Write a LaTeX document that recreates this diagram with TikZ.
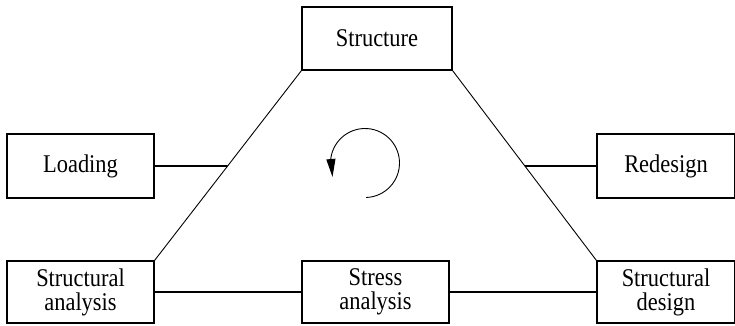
\documentclass[tikz,border=0pt]{standalone}
\usepackage{fontspec}
\setmainfont[FakeStretch=0.88]{Liberation Serif}
\usetikzlibrary{arrows.meta,calc}
\begin{document}
\begin{tikzpicture}[x=1pt,y=-1pt,
  box/.style={draw,line width=1.1pt,inner sep=0pt,align=center,
    font=\fontsize{25.5pt}{24pt}\selectfont},
  thin/.style={line width=0.9pt},
  conn/.style={line width=1.6pt}]
\clip (0,0) rectangle (735,325);
\node[box,minimum width=150pt,minimum height=63pt] (struct) at (377,38.5) {Structure};
\node[box,minimum width=147pt,minimum height=64pt] (load) at (80.5,166) {Loading};
\node[box,minimum width=138pt,minimum height=64pt] (redes) at (666,166) {Redesign};
\node[box,minimum width=147pt,minimum height=62pt] (sa) at (80.5,292) {Structural\\analysis};
\node[box,minimum width=147pt,minimum height=62pt] (stress) at (375.5,292) {Stress\\analysis};
\node[box,minimum width=138pt,minimum height=62pt] (sd) at (666,292) {Structural\\design};
\draw[thin] (struct.south west) -- (sa.north east);
\draw[thin] (struct.south east) -- (sd.north west);
\coordinate (ml) at (intersection of struct.south west--sa.north east and load.east--redes.west);
\coordinate (mr) at (intersection of struct.south east--sd.north west and load.east--redes.west);
\draw[conn] (load.east) -- (ml);
\draw[conn] (mr) -- (redes.west);
\draw[conn] (sa.east) -- (stress.west);
\draw[conn] (stress.east) -- (sd.west);
\coordinate (c) at (365,163);
\coordinate (tip) at (332.5,177);
\draw[thin,-{Triangle[length=18pt,width=9pt]}] (c) ++(88:34.5) arc[start angle=88,end angle=-172,radius=34.5] -- (tip);
\end{tikzpicture}
\end{document}
